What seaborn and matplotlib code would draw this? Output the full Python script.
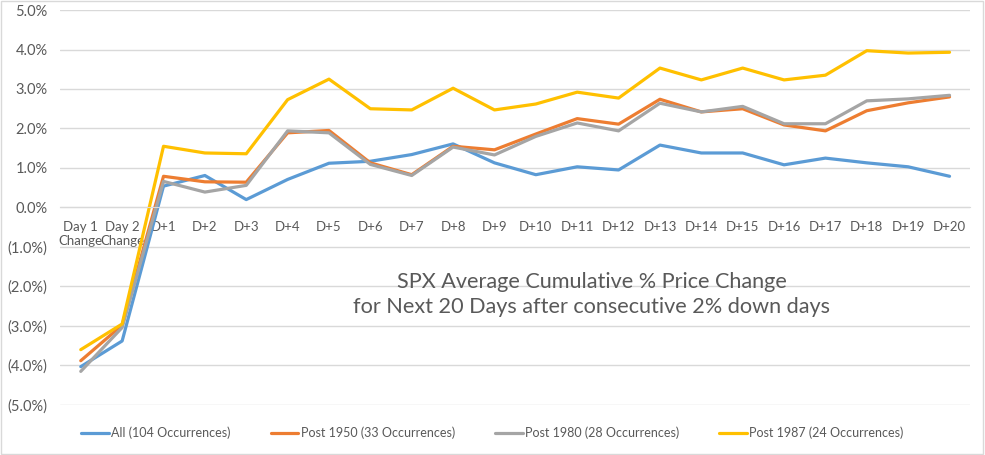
import numpy as np
import pandas as pd
import seaborn as sns
import matplotlib.pyplot as plt
from matplotlib.ticker import FuncFormatter

# x categories
days = ["Day 1\nChange", "Day 2\nChange"] + [f"D+{i}" for i in range(1, 21)]

# average cumulative % change
all_104 = [-4.03, -3.38, 0.54, 0.81, 0.20, 0.71, 1.12, 1.17, 1.34, 1.61, 1.13,
           0.83, 1.03, 0.95, 1.58, 1.38, 1.38, 1.08, 1.25, 1.13, 1.03, 0.79]
post_1950 = [-3.88, -2.98, 0.79, 0.65, 0.64, 1.89, 1.95, 1.13, 0.83, 1.55, 1.46,
             1.86, 2.25, 2.11, 2.74, 2.42, 2.50, 2.09, 1.94, 2.45, 2.65, 2.80]
post_1980 = [-4.15, -3.04, 0.66, 0.39, 0.56, 1.94, 1.89, 1.09, 0.81, 1.53, 1.33,
             1.80, 2.14, 1.94, 2.64, 2.42, 2.56, 2.12, 2.12, 2.70, 2.75, 2.84]
post_1987 = [-3.60, -2.95, 1.55, 1.38, 1.36, 2.73, 3.25, 2.50, 2.47, 3.02, 2.47,
             2.62, 2.92, 2.77, 3.53, 3.23, 3.53, 3.23, 3.35, 3.97, 3.91, 3.93]

series = {
    "All (104 Occurrences)": all_104,
    "Post 1950 (33 Occurrences)": post_1950,
    "Post 1980 (28 Occurrences)": post_1980,
    "Post 1987 (24 Occurrences)": post_1987,
}
colors = ["#5B9BD5", "#ED7D31", "#A5A5A5", "#FFC000"]

rows = []
for name, vals in series.items():
    for i, v in enumerate(vals):
        rows.append({"step": i, "pct": v, "group": name})
df = pd.DataFrame(rows)

sns.set_style("white")
plt.rcParams["font.family"] = ["Lato", "DejaVu Sans"]
text_color = "#595959"
grid_color = "#D9D9D9"

fig = plt.figure(figsize=(9.85, 4.55), dpi=100)
ax = fig.add_axes([0.061, 0.110, 0.924, 0.868])

sns.lineplot(data=df, x="step", y="pct", hue="group", palette=colors,
             linewidth=2.3, ax=ax, legend=False)

ax.set_xlim(-0.5, len(days) - 0.5)
ax.set_ylim(-5, 5)
ax.set_yticks(np.arange(-5, 5.01, 1))
ax.yaxis.set_major_formatter(FuncFormatter(
    lambda v, p: f"{v:.1f}%" if v >= 0 else f"({-v:.1f}%)"))
ax.grid(axis="y", color=grid_color, linewidth=1)
ax.set_axisbelow(True)

# category axis crosses at zero
ax.set_xticks(range(len(days)))
ax.set_xticklabels(days, linespacing=1.6)
ax.spines["bottom"].set_position(("data", 0))
ax.spines["bottom"].set_color(grid_color)
for s in ["top", "right", "left"]:
    ax.spines[s].set_visible(False)
ax.tick_params(axis="both", length=0, colors=text_color)
ax.tick_params(axis="x", pad=10, labelsize=9.5)
ax.tick_params(axis="y", pad=9, labelsize=10.5)
ax.set_xlabel("")
ax.set_ylabel("")

ax.text(12.35, -2.2, "SPX Average Cumulative % Price Change\n"
        "for Next 20 Days after consecutive 2% down days",
        ha="center", va="center", fontsize=15.6, color=text_color, linespacing=1.3)

handles = [plt.Line2D([], [], color=c, linewidth=2.3) for c in colors]
fig.legend(handles, list(series.keys()), loc="center", ncol=4,
           bbox_to_anchor=(0.5, 0.048), frameon=False, fontsize=9,
           handlelength=2.2, handletextpad=0.2, columnspacing=3.2,
           labelcolor=text_color)

fig.patches.append(plt.Rectangle((0.001, 0.002), 0.997, 0.996, transform=fig.transFigure,
                                 fill=False, edgecolor="#D9D9D9", linewidth=1))

fig.savefig("out.png", dpi=100)
